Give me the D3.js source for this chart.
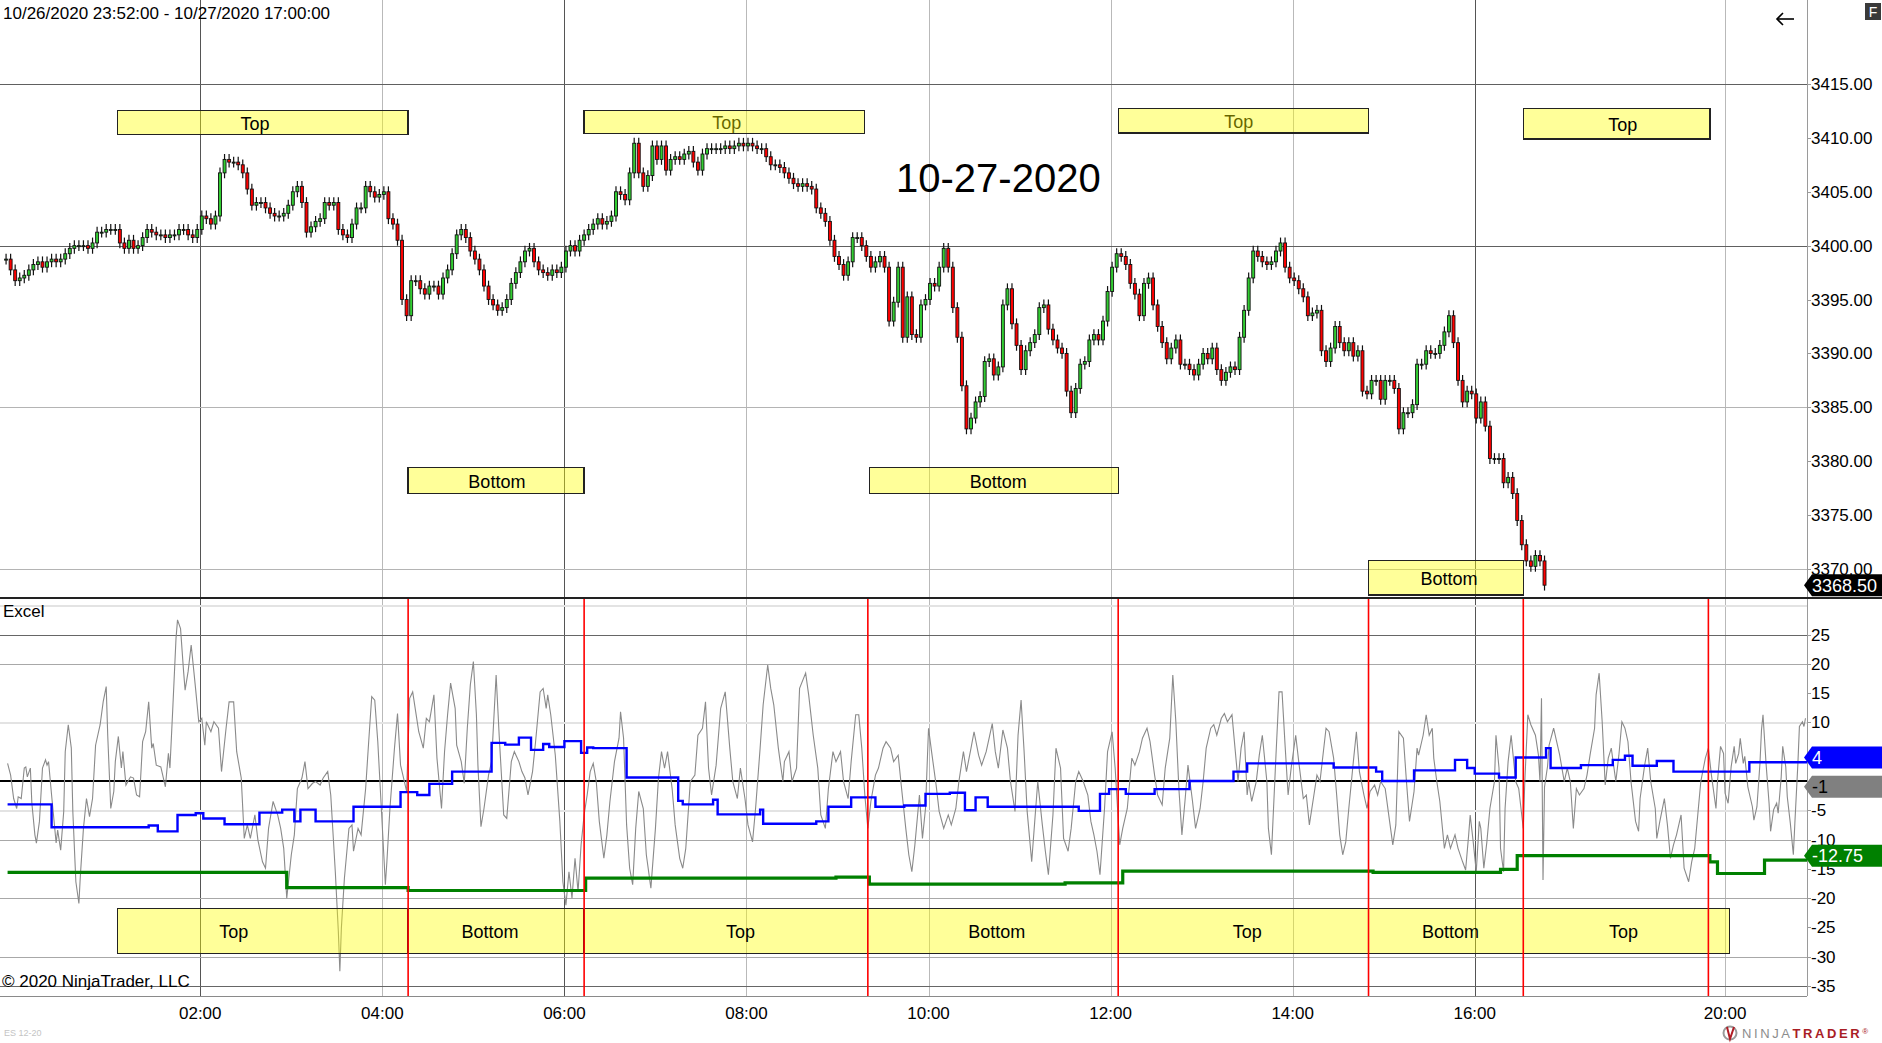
<!DOCTYPE html>
<html><head><meta charset="utf-8">
<script src="https://cdn.jsdelivr.net/npm/d3@7"></script>
<style>
html,body{margin:0;padding:0;background:#fff;overflow:hidden}
svg{display:block}
text{font-family:"Liberation Sans",Arial,Helvetica,sans-serif}
</style></head><body>
<svg id="chart" width="1882" height="1043"></svg>
<script>
// ---------------- DATA ----------------
const headerText = "10/26/2020 23:52:00 - 10/27/2020 17:00:00";
const titleText = "10-27-2020";
const titleAtMinute = 654;
const barMinutes = 3;            // one candle per 3 minutes, minute 0 = 23:52
// closes of ES 12-20, 3-minute steps
const closes = [
3398.75,3397.75,3396.75,3397,3397.25,3397.75,3398.25,3398.5,3398,3398.5,
3398.75,3398.5,3398.75,3399.25,3399.75,3400,3400,3400,3399.75,3400.25,
3401.25,3401.25,3401.5,3401.5,3401.5,3400.25,3399.75,3400.5,3399.75,3400,
3400.75,3401.5,3401.25,3401,3401,3400.75,3401,3401,3401.5,3401.5,
3401,3400.75,3401.5,3402.75,3402.5,3402,3402.75,3406.75,3408,3407.75,
3407.75,3407.5,3406.75,3405.25,3403.75,3404,3404,3403.5,3403,3402.75,
3402.75,3403,3403.75,3405,3405.5,3404,3401.25,3401.75,3402.25,3402.5,
3404,3403.75,3404,3401.5,3401,3400.75,3402,3403.5,3403.5,3405.5,
3405,3404.5,3404.75,3405,3402.5,3402,3400.5,3395,3393.5,3396.75,
3396.75,3396,3395.5,3396.25,3396.25,3395.5,3397,3397.75,3399.25,3401,
3401.5,3400.75,3399.5,3398.75,3397.75,3396.25,3395,3394.5,3394,3394.25,
3395,3396.5,3397.5,3398.5,3399.5,3399.75,3398.5,3397.75,3397.5,3397.25,
3397.75,3397.5,3398,3399.5,3400,3399.5,3400.5,3401,3401.5,3402,
3402.5,3402,3402.25,3402.75,3405,3404.75,3404.25,3406.75,3409.5,3406.75,
3405.5,3406.5,3409.25,3408,3409.25,3407,3408,3408.25,3408,3408.5,
3408.75,3407.75,3407,3408.5,3409,3409,3409,3409,3409.25,3409,
3409.25,3409.5,3409.25,3409.5,3409.25,3409,3409,3408.25,3407.5,3407.5,
3407.25,3406.75,3406.25,3405.75,3405.5,3405.75,3405.5,3405.25,3403.5,3403,
3402.25,3400.5,3399,3398.25,3397.25,3398.5,3400.75,3400.75,3400,3399,
3398,3398.5,3399,3398,3393,3394.75,3398,3391.5,3395.25,3391.75,
3391.5,3394.5,3395,3396.5,3396.25,3398,3399.75,3398,3394.25,3391.5,
3387,3383,3384,3385.5,3386,3389.25,3389.5,3388,3388.75,3394.5,
3396,3392.75,3390.75,3388.5,3390.25,3391,3391.75,3394.25,3394.5,3392.25,
3391.25,3390.5,3390,3386.5,3384.5,3386.75,3389,3389.25,3391.25,3391.75,
3391.25,3393,3395.75,3398,3399.25,3399,3398.25,3396.5,3395.5,3393.5,
3396.5,3397,3394.5,3392.5,3391,3389.5,3390.5,3391.25,3389,3389,
3388.5,3388,3389,3390,3389.5,3390.5,3388.5,3387.5,3388.25,3388.75,
3388.5,3391.5,3394,3397,3399.5,3399,3398.5,3398.25,3398.5,3399.5,
3400.25,3398,3397,3396.75,3396,3395.25,3393.5,3393.75,3394,3390.25,
3389.25,3390.5,3392.5,3391,3390.25,3391,3389.75,3390.25,3386.5,3386.25,
3387.5,3387.5,3385.75,3387.5,3387.5,3386.75,3383,3384.5,3384.5,3385.25,
3389,3389,3390.25,3390,3390,3390.75,3392,3393.5,3391,3387.5,
3385.5,3386.5,3386.25,3384,3385.5,3383.25,3380.25,3380.25,3380.25,3378,
3378.5,3377,3374.5,3372.25,3370.75,3370.25,3371.25,3370.75,3368.5];

// "Excel" oscillator: [minute, value] turning points
const oscPoints = [[1,3.0],[3,1.0],[5,-3.0],[7,-4.7],[8,-2.7],[10,-3],[12,2.2],[13,2.4],[14,0.7],[16,2.2],[17,-3.8],[19,-9.2],[20,-10.6],[22,-6.9],[24,2.2],[26,3.6],[27,2.7],[28,3.3],[30,-2.4],[33,-10.6],[34,-8.4],[36,-11.8],[38,-5.2],[39,5.0],[41,9.6],[43,5.6],[44,-5.2],[46,-17.2],[48,-20.9],[49,-16.0],[51,-8.1],[53,-3],[55,-6.1],[57,-3],[59,6.1],[62,9.6],[64,13.5],[66,16.1],[67,7.8],[69,-4.7],[71,-1.8],[72,3.3],[74,7.6],[76,2.2],[77,5.0],[79,-0.7],[82,0.7],[84,0.5],[86,-2.4],[88,-2.7],[90,6.7],[92,8.4],[94,13.5],[96,5.6],[97,6.4],[99,2.7],[102,2.4],[105,-1.0],[107,4.7],[108,2.2],[110,13],[112,24.3],[113,27.5],[115,26],[117,18.7],[118,15.5],[120,18.7],[122,23.2],[124,18.1],[125,15.5],[127,10.1],[129,10.7],[131,6.1],[132,10.1],[135,8.4],[137,10.1],[140,9.0],[142,1.6],[145,9],[147,13.5],[150,13.5],[152,5],[155,0.5],[157,-9.8],[159,-7.5],[161,-9.8],[164,-5.8],[166,-10.1],[169,-13.8],[171,-14.9],[173,-8.1],[176,-3.5],[179,-5.8],[181,-8.1],[183,-11.5],[185,-20],[188,-12.6],[190,-9.2],[192,-1.3],[195,0.5],[197,3.3],[199,-1.3],[202,-0.4],[204,-0.1],[207,-0.7],[209,0.5],[212,1.6],[214,-2.4],[217,-15.5],[219,-25.7],[220,-32.5],[221,-25.1],[223,-16.6],[226,-8.1],[228,-7.5],[229,-12],[232,-8.1],[234,-9.2],[237,-1.3],[239,6.7],[241,14.4],[243,13.8],[245,6.7],[247,-3.0],[250,-17.7],[251,-13.8],[253,-4.7],[256,5.6],[258,11.5],[260,2.7],[262,0.5],[264,-1.8],[266,14.1],[268,15.2],[270,11.8],[272,8.4],[275,5.6],[277,10.7],[279,10.1],[282,14.7],[284,3.9],[287,-4.7],[289,5.0],[291,11.3],[293,16.7],[296,12.4],[297,6.1],[300,3.3],[302,-0.4],[304,9],[306,16.4],[308,20.4],[310,11.3],[311,2.7],[313,-7.8],[315,-4.7],[318,1.0],[320,3.3],[323,18.1],[325,7.8],[328,-5.8],[330,-6.4],[333,3.3],[335,5.0],[338,3.3],[340,1.6],[342,0.5],[344,-2.4],[347,1.6],[349,6.7],[352,15.2],[354,15.8],[356,12.4],[357,14.7],[359,11.3],[362,4.4],[365,-6.9],[367,-17.2],[369,-21.2],[371,-15.5],[373,-20],[375,-13.2],[377,-18.9],[379,-10.9],[381,-5.8],[383,-2.4],[385,1.6],[387,3.0],[389,-0.1],[391,-6.9],[394,-13.2],[396,-9.2],[398,-3.5],[401,3.3],[404,7.3],[405,11.8],[407,7.3],[409,-7.5],[411,-14.9],[413,-17.7],[415,-8.1],[417,-1.8],[420,-4.7],[422,-12.6],[425,-18.3],[428,-8.1],[430,0.5],[432,5.0],[434,2.2],[436,5.0],[439,-1.3],[441,-7.5],[444,-13.2],[446,-14.9],[448,-11.5],[451,-0.1],[454,1.0],[456,7.8],[459,9],[461,13.5],[463,2.2],[465,-2.4],[468,2.7],[471,12.4],[474,15.2],[477,5.6],[479,-0.1],[482,-3.0],[484,2.2],[487,-3.0],[489,-7.5],[492,-10.4],[494,-4.7],[497,5.6],[499,13],[502,19.8],[504,15.8],[506,13],[509,5.6],[512,-0.1],[513,3.3],[516,5.0],[518,-0.1],[521,2.2],[523,15.8],[527,18.4],[529,14.7],[532,7.8],[535,2.2],[537,-5.8],[540,-8.1],[542,-1.3],[545,5.0],[547,3.3],[550,5.0],[552,-0.1],[555,-3.0],[557,3.3],[560,11.3],[562,11.3],[564,5.6],[566,-2.4],[568,-8.1],[570,-3.5],[573,1.0],[575,2.2],[578,5.6],[580,6.7],[583,5.6],[585,3.3],[588,4.4],[590,-0.7],[593,-8.1],[595,-12.6],[597,-15.5],[599,-10.9],[602,-2.4],[604,-9.8],[606,-4.7],[608,9.0],[610,5.0],[613,-0.7],[615,-5.2],[618,-8.1],[621,-5.8],[623,-7.5],[626,-4.7],[628,-0.1],[631,5.0],[633,1.6],[636,5.6],[638,8.4],[641,4.4],[643,2.7],[646,5.0],[650,9.8],[652,5.0],[654,2.2],[657,8.7],[660,5.6],[662,-0.1],[665,-5.2],[667,7.8],[669,13.8],[671,5.0],[673,-5.2],[676,-13.8],[678,-6.9],[680,-0.1],[683,-7.5],[685,-12],[687,-16],[690,-5.8],[692,5.6],[695,2.2],[697,-9.8],[700,-12],[702,-8.1],[705,-0.1],[707,1.6],[710,-0.1],[713,-2.4],[715,-6.9],[717,-9.2],[719,-12],[721,-16],[724,-4.7],[726,5.0],[729,8.4],[731,2.2],[734,-10.9],[736,-8.1],[739,-4.7],[742,3.9],[744,2.7],[747,5.0],[749,7.3],[752,9.0],[754,6.7],[757,1.0],[759,-2.4],[762,-4.1],[764,2.2],[767,7.3],[769,18.1],[771,10.1],[773,-1.3],[775,-9.2],[777,-3.5],[779,2.7],[782,-3.5],[784,-8.1],[787,-4.7],[789,-0.1],[791,5.6],[794,9.0],[796,9.6],[798,7.8],[801,10.7],[803,11.5],[805,10.1],[808,11.3],[810,5.6],[812,-0.1],[814,5.6],[816,8.4],[818,-2.4],[819,-0.1],[821,-3.5],[824,-0.1],[826,4.4],[828,7.8],[831,-0.1],[832,-8.1],[834,-12.6],[835,-6.9],[837,4.4],[839,15.2],[841,15.2],[843,6.1],[845,-2.4],[847,2.2],[850,7.8],[852,3.3],[855,-3.0],[857,-2.4],[859,-7.5],[862,-2.4],[864,1.0],[866,-0.1],[870,9.0],[872,8.4],[875,3.9],[877,-2.4],[879,-9.2],[881,-12.6],[883,-10.4],[885,-4.7],[888,3.3],[890,8.4],[892,1.6],[895,-2.4],[897,-4.7],[899,-1.8],[902,-0.7],[904,-2.4],[906,-0.1],[909,-1.3],[911,-5.2],[914,-10.9],[916,-7.5],[918,8.4],[921,7.3],[923,-0.1],[925,-6.9],[928,-1.8],[930,5.6],[931,4.4],[934,7.8],[936,11.3],[938,7.8],[940,9.0],[941,3.9],[943,-0.1],[945,-3.5],[948,-11.5],[950,-9.2],[952,-11.5],[955,-9.2],[957,-11.5],[960,-13.8],[962,-15.2],[964,-9.2],[965,-5.8],[967,-10.4],[969,-15.5],[971,-6.9],[972,-8.1],[974,-14.9],[976,-10.4],[978,-4.7],[981,-0.1],[982,7.8],[984,2.2],[985,-11.5],[987,-15.5],[988,-4.7],[990,3.3],[992,7.8],[995,-0.1],[997,-1.3],[1000,-8.1],[1001,-0.1],[1003,11.3],[1005,9.6],[1008,7.8],[1010,4.4],[1011,-0.1],[1012,14.1],[1013,-16.9],[1014,-1],[1016,2.5],[1017,6.1],[1020,9.0],[1022,6.7],[1024,4.4],[1027,-0.1],[1029,2.2],[1031,-0.1],[1033,-8.1],[1035,-1.3],[1037,-2.4],[1040,-1.3],[1042,1.0],[1044,4.4],[1047,9.0],[1048,14.7],[1050,18.4],[1052,10.1],[1054,-0.7],[1056,3.9],[1058,5.6],[1061,-0.1],[1063,4.4],[1065,10.1],[1067,9.0],[1069,6.7],[1071,-0.1],[1074,-6.9],[1076,-8.6],[1077,-3.0],[1080,2.7],[1082,5.6],[1084,-0.1],[1087,-4.7],[1088,-9.8],[1090,-6.9],[1093,-3.0],[1095,-7.5],[1097,-13.2],[1099,-10.9],[1101,-9.2],[1104,-5.8],[1106,-14.9],[1109,-17.2],[1111,-13.8],[1113,-11.5],[1115,-5.8],[1117,-0.1],[1120,3.9],[1122,5.6],[1124,1.0],[1127,-4.7],[1128,-0.1],[1130,5.9],[1132,4.7],[1133,-2.1],[1135,-3.8],[1137,2.4],[1139,5.9],[1140,3.0],[1142,4.7],[1143,7.3],[1145,3.0],[1146,4.2],[1148,-1.0],[1151,-4.4],[1152,-6.7],[1154,-4.4],[1156,3.0],[1157,8.7],[1158,11.3],[1160,3.0],[1162,-3.8],[1163,-8.6],[1165,-4.9],[1167,-3.8],[1168,-5.5],[1170,0.7],[1171,5.9],[1173,2.4],[1174,-2.7],[1176,-7.2],[1178,-12.6],[1179,-7.2],[1181,3.0],[1182,9.3],[1184,10.1],[1185,9.3],[1186,10.7]];

// blue step line (minute where a new level starts, level)
const blueT = [1,30,94,100,113,125,130,144,167,182,190,194,204,229,260,271,279,294,320,329,338,346,354,358,368,379,383,387,409,443,446,466,469,497,499,534,542,557,573,592,606,622,632,639,647,707,721,727,738,757,780,809,818,875,903,907,928,955,963,968,984,995,1015,1018,1038,1059,1067,1072,1088,1099,1149];
const blueV = [-4,-7.9,-7.6,-8.6,-5.8,-5.5,-6.4,-7.4,-5.4,-4.9,-6.9,-4.9,-6.9,-4.4,-1.9,-2.4,-0.5,1.6,6.5,6.2,7.4,5.3,6.3,5.8,6.8,4.8,5.7,5.6,0.6,-3.4,-4,-3.2,-5.7,-4.9,-7.3,-6.9,-4.4,-2.8,-4.4,-4.2,-2.2,-2.0,-5,-2.8,-4.4,-5.1,-2.2,-1.4,-2.2,-1.4,0,1.6,3.0,2.3,1.6,0,1.8,3.6,2.2,1.25,0.6,4.0,5.6,2.2,2.7,3.6,4.3,2.6,3.4,1.6,3.2];
// green step line
const greenT = [1,185,265,382,547,569,698,736,901,985,996,1123,1128,1159];
const greenV = [-15.6,-18.2,-18.7,-16.6,-16.4,-17.6,-17.4,-15.4,-15.6,-15.1,-12.75,-13.8,-15.8,-13.5];

// time axis
const tickLabels = ["02:00","04:00","06:00","08:00","10:00","12:00","14:00","16:00","20:00"];
const tickMinutes = [128,248,368,488,608,728,848,968,1133];
const majorTickLabels = ["02:00","06:00","16:00"];
const lastMinute = 1187;

// price axis
const priceTicks = [3415,3410,3405,3400,3395,3390,3385,3380,3375,3370];
const priceGrid = [3415,3400,3385,3370];
const priceGridMajor = [3415,3400];

// oscillator axis
const oscTicks = [25,20,15,10,5,0,-5,-10,-15,-20,-25,-30,-35];
const oscGridDark = [25,-35];
const oscGridMid = [20,-10,-20,-30];
const oscGridLight = [30,10,-5];
const oscZero = [0];

// signals (turning points) and zones
const signalMinutes = [265,381,568,733,898,1000,1122];
const zoneLabels = ["Top","Bottom","Top","Bottom","Top","Bottom","Top"];
const priceZoneStart = [73.5,265,381,569,733,898,1000];
const priceZoneEnd   = [265,381,566,733,898,1000,1123];
const priceZoneHigh  = [3412.55,3379.4,3412.55,3379.4,3412.7,3370.8,3412.7];
const priceZoneLow   = [3410.3,3377.0,3410.4,3377.0,3410.45,3367.6,3409.9];
const priceLabelAt   = [164,323.5,475,654,812.5,951,1065.5];
const stripStart = [73.5,265,381,568,733,898,1000];
const stripEnd   = [265,381,568,733,898,1000,1136];
const stripLabelAt = [150,319,484,653,818,952,1066];
const stripHigh = -21.74, stripLow = -29.42;

// ---------------- LAYOUT ----------------
const W = 1882, H = 1043;
const plotRight = 1807, priceBottom = 598, oscTop = 598, oscBottom = 996;
const FONT = 17;

const svg = d3.select("#chart");
svg.append("rect").attr("width", W).attr("height", H).attr("fill", "#fff");

const x = d3.scaleLinear().domain([-4, lastMinute]).range([0, plotRight]);
const yP = d3.scaleLinear().domain([3367.31, 3422.79]).range([priceBottom, 0]);
const yO = d3.scaleLinear().domain([-35, 25]).range([986, 634.5]);

const defs = svg.append("defs");
defs.append("clipPath").attr("id", "clipP").append("rect")
  .attr("x", 0).attr("y", 0).attr("width", plotRight).attr("height", priceBottom);
defs.append("clipPath").attr("id", "clipO").append("rect")
  .attr("x", 0).attr("y", oscTop).attr("width", plotRight).attr("height", oscBottom - oscTop);

const cr = v => Math.round(v) + 0.5;

// ---- grid ----
const grid = svg.append("g").attr("shape-rendering", "crispEdges");
grid.selectAll("line.v").data(tickMinutes).join("line").attr("class", "v")
  .attr("x1", d => cr(x(d))).attr("x2", d => cr(x(d)))
  .attr("y1", 0).attr("y2", oscBottom)
  .attr("stroke", (d, i) => majorTickLabels.includes(tickLabels[i]) ? "#555" : "#b9b9b9");
grid.selectAll("line.hp").data(priceGrid).join("line").attr("class", "hp")
  .attr("x1", 0).attr("x2", plotRight)
  .attr("y1", d => cr(yP(d))).attr("y2", d => cr(yP(d)))
  .attr("stroke", d => priceGridMajor.includes(d) ? "#606060" : "#b4b4b4");
function oscGrid(levels, color, w) {
  grid.append("g").selectAll("line").data(levels).join("line")
    .attr("x1", 0).attr("x2", plotRight)
    .attr("y1", d => cr(yO(d))).attr("y2", d => cr(yO(d)))
    .attr("stroke", color).attr("stroke-width", w);
}
oscGrid(oscGridLight, "#e3e3e3", 2);
oscGrid(oscGridMid, "#a8a8a8", 1);
oscGrid(oscGridDark, "#666", 1);

// ---- candles ----
const bars = closes.map((c, i) => {
  const o = i ? closes[i - 1] : c;
  return { t: i * barMinutes, o, c, h: Math.max(o, c) + 0.5, l: Math.min(o, c) - 0.5 };
});
const bodyW = x(barMinutes) - x(0) - 1.6;
const cg = svg.append("g").attr("clip-path", "url(#clipP)");
cg.selectAll("line").data(bars).join("line")
  .attr("x1", d => x(d.t)).attr("x2", d => x(d.t))
  .attr("y1", d => yP(d.h)).attr("y2", d => yP(d.l))
  .attr("stroke", "#111").attr("stroke-width", 1.2);
cg.selectAll("rect").data(bars).join("rect")
  .attr("x", d => x(d.t) - bodyW / 2).attr("width", bodyW)
  .attr("y", d => yP(Math.max(d.o, d.c)))
  .attr("height", d => Math.max(1, Math.abs(yP(d.o) - yP(d.c))))
  .attr("fill", d => d.c >= d.o ? "#32cd32" : "#ff0000")
  .attr("stroke", "#111").attr("stroke-width", 0.9);

// ---- oscillator panel ----
const og = svg.append("g").attr("clip-path", "url(#clipO)");
og.selectAll("line.z").data(oscZero).join("line").attr("class", "z")
  .attr("x1", 0).attr("x2", plotRight)
  .attr("y1", d => yO(d)).attr("y2", d => yO(d))
  .attr("stroke", "#000").attr("stroke-width", 2);
og.append("path").datum(oscPoints)
  .attr("d", d3.line().x(d => x(d[0])).y(d => yO(d[1])))
  .attr("fill", "none").attr("stroke", "#8a8a8a").attr("stroke-width", 1.1);
const stepLine = d3.line().x(d => x(d[0])).y(d => yO(d[1])).curve(d3.curveStepAfter);
const bluePts = blueT.map((t, i) => [t, blueV[i]]).concat([[lastMinute, blueV[blueV.length - 1]]]);
const greenPts = greenT.map((t, i) => [t, greenV[i]]).concat([[lastMinute, greenV[greenV.length - 1]]]);
og.append("path").datum(greenPts).attr("d", stepLine)
  .attr("fill", "none").attr("stroke", "#008000").attr("stroke-width", 3.2);
og.append("path").datum(bluePts).attr("d", stepLine)
  .attr("fill", "none").attr("stroke", "#0000ff").attr("stroke-width", 2.4);

// ---- zones (semi-transparent yellow rectangles) ----
const zoneIdx = d3.range(zoneLabels.length);
const underText = [2, 4];  // these labels sit beneath their rectangle
const tg = svg.append("g");
function zoneLabel(g, i) {
  g.append("text")
    .attr("x", x(priceLabelAt[i]))
    .attr("y", (yP(priceZoneHigh[i]) + yP(priceZoneLow[i])) / 2 + 7.5)
    .attr("text-anchor", "middle").attr("font-size", 18).attr("fill", "#000")
    .text(zoneLabels[i]);
}
underText.forEach(i => zoneLabel(tg, i));
svg.append("g").attr("shape-rendering", "crispEdges").selectAll("rect").data(zoneIdx).join("rect")
  .attr("x", i => x(priceZoneStart[i])).attr("width", i => x(priceZoneEnd[i]) - x(priceZoneStart[i]))
  .attr("y", i => yP(priceZoneHigh[i])).attr("height", i => yP(priceZoneLow[i]) - yP(priceZoneHigh[i]))
  .attr("fill", "#ffff00").attr("fill-opacity", 0.4).attr("stroke", "#222").attr("stroke-width", 1.3);
const tg2 = svg.append("g");
zoneIdx.filter(i => !underText.includes(i)).forEach(i => zoneLabel(tg2, i));

svg.append("g").attr("shape-rendering", "crispEdges").selectAll("rect").data(zoneIdx).join("rect")
  .attr("x", i => x(stripStart[i])).attr("width", i => x(stripEnd[i]) - x(stripStart[i]))
  .attr("y", yO(stripHigh)).attr("height", yO(stripLow) - yO(stripHigh))
  .attr("fill", "#ffff00").attr("fill-opacity", 0.4).attr("stroke", "#222").attr("stroke-width", 1.3);
svg.append("g").selectAll("text").data(zoneIdx).join("text")
  .attr("x", i => x(stripLabelAt[i]))
  .attr("y", (yO(stripHigh) + yO(stripLow)) / 2 + 7.5)
  .attr("text-anchor", "middle").attr("font-size", 18).attr("fill", "#000")
  .text(i => zoneLabels[i]);

// signal lines
svg.append("g").selectAll("line").data(signalMinutes).join("line")
  .attr("x1", d => x(d)).attr("x2", d => x(d))
  .attr("y1", oscTop).attr("y2", oscBottom)
  .attr("stroke", "#ff0000").attr("stroke-width", 1.6);

// ---- frame ----
const fr = svg.append("g").attr("shape-rendering", "crispEdges");
fr.append("line").attr("x1", cr(plotRight)).attr("x2", cr(plotRight)).attr("y1", 0).attr("y2", oscBottom)
  .attr("stroke", "#9a9a9a");
fr.append("line").attr("x1", 0).attr("x2", W).attr("y1", priceBottom).attr("y2", priceBottom)
  .attr("stroke", "#222").attr("stroke-width", 2);
fr.append("line").attr("x1", 0).attr("x2", plotRight).attr("y1", cr(oscBottom)).attr("y2", cr(oscBottom))
  .attr("stroke", "#8a8a8a");

// ---- last-value markers (values at the last price bar) ----
const lastBar = bars[bars.length - 1];
const stepAt = (T, V, t) => { let v = V[0]; T.forEach((tt, i) => { if (tt <= t) v = V[i]; }); return v; };
const oscAt = t => { const p = oscPoints.find(q => q[0] === t); return p ? p[1] : 0; };
const fmt = v => String(+v.toFixed(2));
const bv = stepAt(blueT, blueV, lastBar.t);
const gv = stepAt(greenT, greenV, lastBar.t);
const ov = oscAt(lastBar.t);
const markerYs = [yO(bv), yO(ov), yO(gv)];

// ---- axes ----
const ax = svg.append("g").attr("font-size", FONT).attr("fill", "#000");
ax.selectAll("line.pt").data(priceTicks).join("line").attr("class", "pt")
  .attr("x1", plotRight).attr("x2", plotRight + 4)
  .attr("y1", d => cr(yP(d))).attr("y2", d => cr(yP(d))).attr("stroke", "#9a9a9a");
ax.selectAll("text.pt").data(priceTicks).join("text").attr("class", "pt")
  .attr("x", plotRight + 4).attr("y", d => yP(d) + 6).text(d => d.toFixed(2));
ax.selectAll("line.ot").data(oscTicks).join("line").attr("class", "ot")
  .attr("x1", plotRight).attr("x2", plotRight + 4)
  .attr("y1", d => cr(yO(d))).attr("y2", d => cr(yO(d))).attr("stroke", "#9a9a9a");
// tick labels fully covered by a value marker are not shown
ax.selectAll("text.ot").data(oscTicks.filter(d => markerYs.every(m => Math.abs(yO(d) - m) > 9)))
  .join("text").attr("class", "ot")
  .attr("x", plotRight + 4).attr("y", d => yO(d) + 6).text(d => String(d));
ax.selectAll("text.xt").data(tickMinutes).join("text").attr("class", "xt")
  .attr("x", d => x(d)).attr("y", 1019).attr("text-anchor", "middle")
  .text((d, i) => tickLabels[i]);

function marker(cy, fill, txtColor, txt) {
  const g = svg.append("g");
  g.append("path")
    .attr("d", `M${plotRight - 3},${cy} L${plotRight + 5},${cy - 11} L${W},${cy - 11} L${W},${cy + 11} L${plotRight + 5},${cy + 11} Z`)
    .attr("fill", fill);
  g.append("text").attr("x", plotRight + 5).attr("y", cy + 6.5)
    .attr("font-size", FONT + 1).attr("fill", txtColor).text(txt);
}
marker(yP(lastBar.c), "#000", "#fff", lastBar.c.toFixed(2));
marker(yO(bv), "#0000ff", "#fff", fmt(bv));
marker(yO(ov), "#808080", "#000", fmt(ov));
marker(yO(gv), "#008000", "#fff", fmt(gv));

// ---- texts ----
svg.append("text").attr("x", 3).attr("y", 19).attr("font-size", FONT).text(headerText);
svg.append("text").attr("x", x(titleAtMinute)).attr("y", 192).attr("font-size", 40)
  .attr("text-anchor", "middle").text(titleText);
svg.append("text").attr("x", 3).attr("y", 617).attr("font-size", FONT).text("Excel");
svg.append("text").attr("x", 2).attr("y", 987).attr("font-size", FONT).text("\u00A9 2020 NinjaTrader, LLC");
svg.append("text").attr("x", 4).attr("y", 1036).attr("font-size", 9).attr("fill", "#c4c4c4").text("ES 12-20");

// back arrow and F button
const ar = svg.append("g").attr("stroke", "#000").attr("stroke-width", 1.6).attr("fill", "none");
ar.append("line").attr("x1", 1777).attr("x2", 1794).attr("y1", 19).attr("y2", 19);
ar.append("polyline").attr("points", "1783,13 1777,19 1783,25");
svg.append("rect").attr("x", 1865).attr("y", 3).attr("width", 16).attr("height", 17).attr("fill", "#3a3a3a");
svg.append("text").attr("x", 1873).attr("y", 17).attr("font-size", 14).attr("fill", "#fff")
  .attr("text-anchor", "middle").text("F");

// NinjaTrader logo
const lg = svg.append("g");
lg.append("circle").attr("cx", 1730).attr("cy", 1033).attr("r", 6.5)
  .attr("fill", "none").attr("stroke", "#9a9a9a").attr("stroke-width", 2);
lg.append("path").attr("d", "M1727,1027 L1730,1039 L1734,1027").attr("fill", "none")
  .attr("stroke", "#b01c24").attr("stroke-width", 2);
const lt = lg.append("text").attr("x", 1742).attr("y", 1038).attr("font-size", 13)
  .attr("letter-spacing", 2.6);
lt.append("tspan").attr("fill", "#8c8c8c").text("NINJA");
lt.append("tspan").attr("fill", "#a91d25").attr("font-weight", "bold").text("TRADER");
lt.append("tspan").attr("fill", "#a91d25").attr("font-size", 8).attr("dy", -4).text("\u00AE");
</script></body></html>
